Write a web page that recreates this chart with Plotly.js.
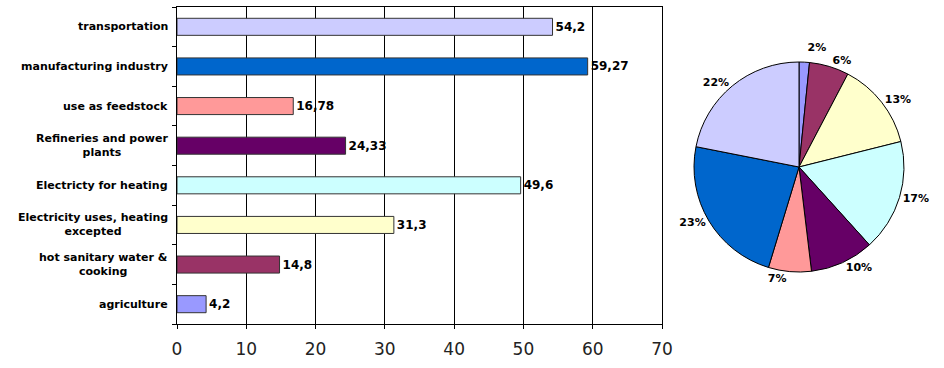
<!DOCTYPE html>
<html><head><meta charset="utf-8">
<script src="https://cdn.plot.ly/plotly-3.0.1.min.js"></script>
<style>html,body{margin:0;padding:0;background:#fff}#chart{width:944px;height:368px}.textline{display:none}</style>
</head><body><div id="chart"></div>
<script>
// categories, bottom to top (also clockwise order of pie from 12 o'clock)
const categories = [
  "agriculture",
  "hot sanitary water &<br>cooking",
  "Electricity uses, heating<br>excepted",
  "Electricty for heating",
  "Refineries and power<br>plants",
  "use as feedstock",
  "manufacturing industry",
  "transportation"
];
const barValues = [4.2, 14.8, 31.3, 49.6, 24.33, 16.78, 59.27, 54.2];
// pie shares (percent)
const pieValues = [1.6, 6.1, 13.4, 17.2, 9.8, 6.6, 23.4, 21.9];
const colors = ["#9999FF", "#993366", "#FFFFCC", "#CCFFFF", "#660066", "#FF9999", "#0066CC", "#CCCCFF"];
const xTicks = [0, 10, 20, 30, 40, 50, 60, 70];

const barText = barValues.map(v => String(v).replace('.', ','));
const boldFont = "DejaVu Sans";

const bar = {
  type: 'bar', orientation: 'h',
  x: barValues, y: categories,
  marker: {color: colors, line: {color: '#333333', width: 1}},
  text: barText, textposition: 'outside', cliponaxis: false,
  textfont: {family: boldFont, size: 12, color: '#000', weight: 'bold'},
  hoverinfo: 'none', showlegend: false
};
const pie = {
  type: 'pie', values: pieValues, labels: categories,
  sort: false, direction: 'clockwise', rotation: 0,
  marker: {colors: colors, line: {color: '#000', width: 1}},
  texttemplate: '%{percent:.0%}', textposition: 'outside',
  textfont: {family: boldFont, size: 11, color: '#000', weight: 'bold'},
  domain: {x: [694/944, 904/944], y: [1 - 272/368, 1 - 62/368]},
  automargin: false, showlegend: false, hoverinfo: 'none'
};

const annotations = categories.map(c => ({
  xref: 'paper', yref: 'y', x: 177/944, y: c, xanchor: 'right', yanchor: 'middle',
  xshift: -7, text: c, align: 'center', showarrow: false,
  font: {family: boldFont, size: 11, color: '#000', weight: 'bold'}
}));

const layout = {
  width: 944, height: 368,
  margin: {l: 0, r: 0, t: 0, b: 0, pad: 0},
  paper_bgcolor: '#fff', plot_bgcolor: '#fff',
  bargap: 0.57,
  xaxis: {
    domain: [177/944, 662/944], range: [0, 70], tickvals: xTicks,
    showgrid: true, gridcolor: '#000', gridwidth: 1, zeroline: false,
    showline: true, linecolor: '#000', linewidth: 1, mirror: true,
    ticks: 'outside', ticklen: 4, tickcolor: '#000', ticklabelstandoff: 6,
    tickfont: {family: 'DejaVu Sans', size: 17, color: '#222'},
    automargin: false, fixedrange: true
  },
  yaxis: {
    domain: [1 - 324/368, 1 - 7/368],
    showline: true, linecolor: '#000', linewidth: 1, mirror: true,
    ticks: 'outside', ticklen: 4, tickcolor: '#000', tickson: 'boundaries',
    showticklabels: false, showgrid: false, zeroline: false,
    automargin: false, fixedrange: true
  },
  annotations: annotations
};

Plotly.newPlot('chart', [bar, pie], layout, {displayModeBar: false, staticPlot: true});
</script>
</body></html>
